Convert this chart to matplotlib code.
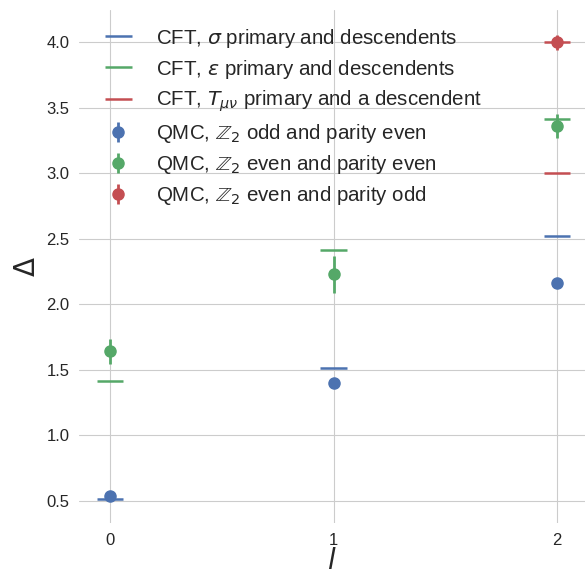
import matplotlib
matplotlib.use("Agg")
import matplotlib.pyplot as plt
import seaborn as sns

sns.set_style("whitegrid")
plt.rcParams['font.family'] = ['Liberation Sans', 'DejaVu Sans']

# CFT predictions
cft_sigma_l = [0, 1, 2]
cft_sigma_val = [0.518, 1.518, 2.518]
cft_eps_l = [0, 1, 2]
cft_eps_val = [1.413, 2.413, 3.413]
cft_T_l = [2, 2]
cft_T_val = [3.0, 4.0]

# QMC results
qmc_odd_l = [0, 1, 2]
qmc_odd_val = [0.537, 1.40, 2.16]
qmc_odd_err = [0.015, 0.015, 0.015]
qmc_even_l = [0, 1, 2]
qmc_even_val = [1.643, 2.23, 3.36]
qmc_even_err = [0.095, 0.14, 0.09]
qmc_podd_l = [2]
qmc_podd_val = [4.0]
qmc_podd_err = [0.057]

xticks = [0, 1, 2]

blue, green, red = "#4C72B0", "#55A868", "#C44E52"
hw = 0.06

fig = plt.figure(figsize=(5.85, 5.75), dpi=100)
ax = fig.add_axes([0.135, 0.0904, 0.865, 0.892])

ax.hlines(cft_sigma_val, [l - hw for l in cft_sigma_l], [l + hw for l in cft_sigma_l],
          color=blue, lw=1.8, label=r"CFT, $\sigma$ primary and descendents")
ax.hlines(cft_eps_val, [l - hw for l in cft_eps_l], [l + hw for l in cft_eps_l],
          color=green, lw=1.8, label=r"CFT, $\varepsilon$ primary and descendents")
ax.hlines(cft_T_val, [l - hw for l in cft_T_l], [l + hw for l in cft_T_l],
          color=red, lw=1.8, label=r"CFT, $T_{\mu\nu}$ primary and a descendent")

ax.errorbar(qmc_odd_l, qmc_odd_val, yerr=qmc_odd_err, fmt='o', color=blue, ms=8, elinewidth=2,
            label=r"QMC, $\mathbb{Z}_2$ odd and parity even")
ax.errorbar(qmc_even_l, qmc_even_val, yerr=qmc_even_err, fmt='o', color=green, ms=8, elinewidth=2,
            label=r"QMC, $\mathbb{Z}_2$ even and parity even")
ax.errorbar(qmc_podd_l, qmc_podd_val, yerr=qmc_podd_err, fmt='o', color=red, ms=8, elinewidth=2,
            label=r"QMC, $\mathbb{Z}_2$ even and parity odd")

ax.set_xlim(-0.139, 2.125)
ax.set_ylim(0.332, 4.244)
ax.set_xticks(xticks)
ax.set_yticks([0.5, 1.0, 1.5, 2.0, 2.5, 3.0, 3.5, 4.0])
ax.tick_params(labelsize=12, colors="#262626")
ax.set_xlabel(r"$l$", fontsize=20, color="#262626", labelpad=1)
ax.set_ylabel(r"$\Delta$", fontsize=20, color="#262626")
for s in ax.spines.values():
    s.set_visible(False)

ax.legend(loc="upper left", bbox_to_anchor=(0.0514, 0.968), frameon=False, fontsize=14.75,
          handlelength=1.3, handletextpad=1.17, labelspacing=0.39, borderaxespad=0.0,
          borderpad=0.0)

fig.savefig("out.png", dpi=100)
